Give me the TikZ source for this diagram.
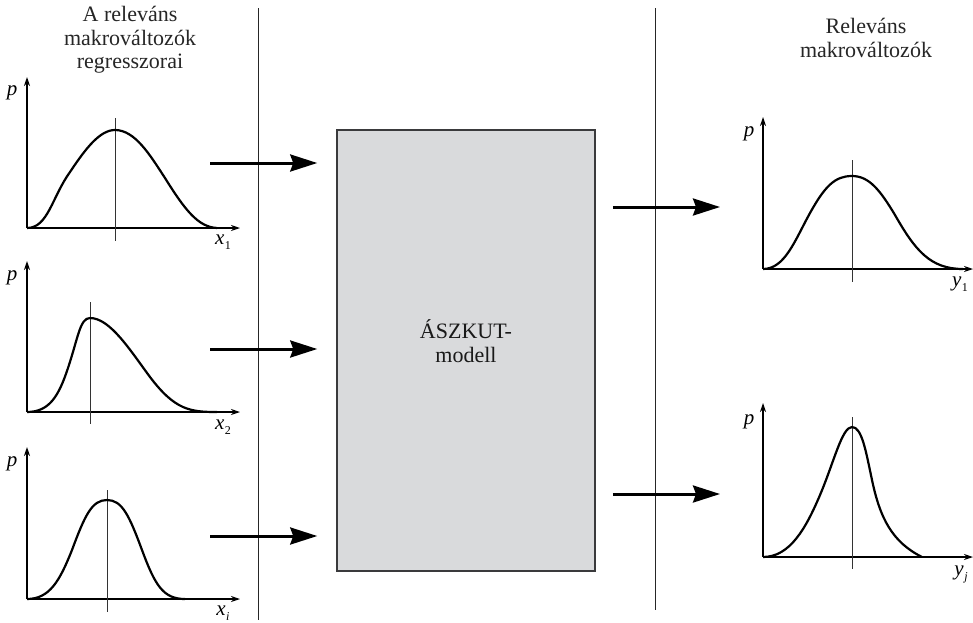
\documentclass[tikz,border=0pt]{standalone}
\usepackage{fontspec}
\setmainfont{Liberation Serif}
\usetikzlibrary{arrows.meta}
\definecolor{boxfill}{HTML}{D9DADC}
\definecolor{boxline}{HTML}{3A3A3C}
\newcommand{\varsub}[2]{{\itshape #1}\kern0.5pt\raisebox{-5pt}{\fontsize{12}{12}\selectfont #2}}
\tikzset{
  sep/.style={line width=1pt, draw=black!85},
  axis/.style={line width=1.2pt, -{Stealth[length=9pt,width=6pt]}},
  midline/.style={line width=1pt, draw=black!80},
  curve/.style={line width=2.2pt, line join=round},
  bigarrow/.style={line width=3pt, -{Stealth[length=27pt,width=17pt,inset=3pt]}},
  title/.style={font=\fontsize{22}{23.5}\selectfont, align=center, text=black!85},
  plabel/.style={font=\fontsize{21}{21}\selectfont\itshape, inner sep=0pt},
  xlabel/.style={font=\fontsize{21}{21}\selectfont, inner sep=0pt},
  model/.style={draw=boxline, fill=boxfill, line width=1.5pt, minimum width=258pt, minimum height=441pt, inner sep=0pt}
}
\begin{document}
\begin{tikzpicture}[x=1pt,y=-1pt]
\useasboundingbox (0,0) rectangle (973,622);
% titles
\node[title] (tl) at (130,40) {A releváns\\makrováltozók\\regresszorai};
\node[title] (tr) at (866,38) {Releváns\\makrováltozók};
% separators
\draw[sep] (258,8) -- (258,620);
\draw[sep] (655,8) -- (655,610);
% model box
\node[model] (box) at (466,350.5) {};
\node[title, text=black!90] (boxtext) at (466,341) {ÁSZKUT-\\modell};
% ---- left plot 1
\coordinate (o1) at (27,228);
\draw[axis] (o1) -- (27,77);
\draw[axis] (o1) -- (240,228);
\draw[midline] (115,118) -- (115,241);
\draw[curve] (27,228) .. controls (48,228) and (52,197) .. (70,172)
  .. controls (86,148) and (100,130) .. (115,130)
  .. controls (135,130) and (150,155) .. (165,178)
  .. controls (185,210) and (198,227) .. (217,228);
\node[plabel] (p1) at (12,93) {p};
\node[xlabel] (l1) at (223,242) {\varsub{x}{1}};
% ---- left plot 2
\coordinate (o2) at (27,412);
\draw[axis] (o2) -- (27,261);
\draw[axis] (o2) -- (240,412);
\draw[midline] (90,302) -- (90,424);
\draw[curve] (27,412) .. controls (50,412) and (59,395) .. (68,368)
  .. controls (78,338) and (80,318) .. (90,318)
  .. controls (110,318) and (130,350) .. (150,377)
  .. controls (175,410) and (190,412) .. (217,412);
\node[plabel] (p2) at (12,278) {p};
\node[xlabel] (l2) at (223,427) {\varsub{x}{2}};
% ---- left plot 3
\coordinate (o3) at (27,599);
\draw[axis] (o3) -- (27,447);
\draw[axis] (o3) -- (240,599);
\draw[midline] (107,490) -- (107,612);
\draw[curve] (27,599) .. controls (50,599) and (60,580) .. (72,550)
  .. controls (85,515) and (92,500) .. (107,500)
  .. controls (122,500) and (129,515) .. (142,550)
  .. controls (155,585) and (163,599) .. (185,599);
\node[plabel] (p3) at (12,464) {p};
\node[xlabel] (l3) at (223,613) {\varsub{x}{\itshape i}};
% ---- right plot 1
\coordinate (o4) at (763,269);
\draw[axis] (o4) -- (763,117);
\draw[axis] (o4) -- (973,269);
\draw[midline] (852,160) -- (852,282);
\draw[curve] (763,269) .. controls (785,269) and (795,240) .. (810,213)
  .. controls (825,186) and (835,176) .. (852,176)
  .. controls (869,176) and (880,190) .. (895,215)
  .. controls (915,250) and (930,269) .. (963,269);
\node[plabel] (p4) at (749,134) {p};
\node[xlabel] (l4) at (960,284) {\varsub{y}{1}};
% ---- right plot 2
\coordinate (o5) at (763,557);
\draw[axis] (o5) -- (763,403);
\draw[axis] (o5) -- (973,557);
\draw[midline] (852,417) -- (852,569);
\draw[curve] (763,557) .. controls (790,557) and (806,528) .. (820,495)
  .. controls (834,462) and (842,427) .. (852,427)
  .. controls (862,427) and (866,452) .. (872,480)
  .. controls (880,518) and (892,542) .. (922,557);
\node[plabel] (p5) at (749,422) {p};
\node[xlabel] (l5) at (961,574) {\varsub{y}{\itshape j}};
% ---- arrows
\coordinate (a1) at (210,163);
\coordinate (a2) at (210,349);
\coordinate (a3) at (210,536);
\coordinate (b1) at (720,207);
\coordinate (b2) at (720,494);
\draw[bigarrow, shorten >=19pt] (a1) -- (box.west |- a1);
\draw[bigarrow, shorten >=19pt] (a2) -- (box.west |- a2);
\draw[bigarrow, shorten >=19pt] (a3) -- (box.west |- a3);
\draw[bigarrow, shorten <=17pt] (box.east |- b1) -- (b1);
\draw[bigarrow, shorten <=17pt] (box.east |- b2) -- (b2);
\end{tikzpicture}
\end{document}
